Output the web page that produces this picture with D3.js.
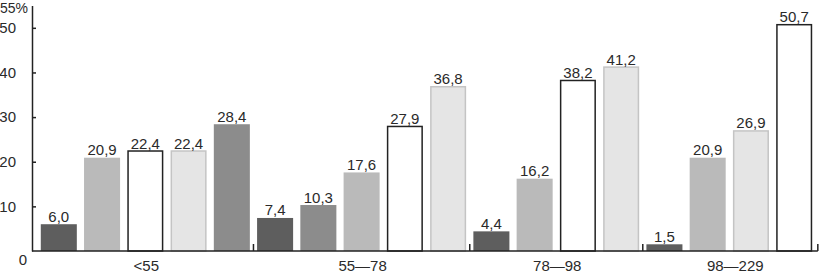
<!DOCTYPE html>
<html>
<head>
<meta charset="utf-8">
<script src="https://cdn.jsdelivr.net/npm/d3@7"></script>
<style>
  body { margin: 0; background: #fff; }
  #chart text { font-family: "Liberation Sans", Arial, sans-serif; fill: #2a2a2a; }
</style>
</head>
<body>
<div id="chart"></div>
<script>
// groups along the x axis
var categories = ["<55", "55—78", "78—98", "98—229"];

// bar values per group (percent)
var values = [
  [6.0, 20.9, 22.4, 22.4, 28.4],
  [7.4, 10.3, 17.6, 27.9, 36.8],
  [4.4, 16.2, 38.2, 41.2],
  [1.5, 20.9, 26.9, 50.7]
];

// fill style of each bar: D dark, M mid, L light, W white, V very light
var kinds = [
  ["D", "L", "W", "V", "M"],
  ["D", "M", "L", "W", "V"],
  ["D", "L", "W", "V"],
  ["D", "L", "V", "W"]
];

var yTicks = [10, 20, 30, 40, 50];

var fills = { D: "#5e5e5e", M: "#8c8c8c", L: "#bababa", W: "#ffffff", V: "#e5e5e5" };
var strokes = { D: "none", M: "none", L: "none", W: "#222", V: "#c4c4c4" };

var width = 820, height = 273;
var x0 = 32, baseY = 251;

var bars = [];
values.forEach(function(g, gi) {
  g.forEach(function(v, bi) {
    bars.push({ key: gi + "-" + bi, group: gi, value: v, kind: kinds[gi][bi] });
  });
});

var x = d3.scaleBand()
    .domain(bars.map(function(d) { return d.key; }))
    .range([33, 820])
    .paddingInner(0.167)
    .paddingOuter(0.18);

var y = d3.scaleLinear().domain([0, 55]).range([baseY, 5.5]);

var svg = d3.select("#chart").append("svg")
    .attr("width", width)
    .attr("height", height);

var fmt = function(v) { return d3.format(".1f")(v).replace(".", ","); };

// bars
svg.selectAll("rect.bar")
    .data(bars)
  .enter().append("rect")
    .attr("class", "bar")
    .attr("x", function(d) { return x(d.key) + (d.kind === "W" || d.kind === "V" ? 0.75 : 0); })
    .attr("width", function(d) { return x.bandwidth() - (d.kind === "W" || d.kind === "V" ? 1.5 : 0); })
    .attr("y", function(d) { return y(d.value); })
    .attr("height", function(d) { return baseY - y(d.value); })
    .style("fill", function(d) { return fills[d.kind]; })
    .style("stroke", function(d) { return strokes[d.kind]; })
    .style("stroke-width", 1.5);

// value labels
svg.selectAll("text.val")
    .data(bars)
  .enter().append("text")
    .attr("class", "val")
    .attr("x", function(d) { return x(d.key) + x.bandwidth() / 2; })
    .attr("y", function(d) { return y(d.value) - 2.5; })
    .attr("text-anchor", "middle")
    .style("font-size", "15px")
    .text(function(d) { return fmt(d.value); });

// y axis
var yAxis = d3.axisLeft(y)
    .tickValues(yTicks)
    .tickSizeInner(-4)
    .tickSizeOuter(0)
    .tickPadding(16);

var ga = svg.append("g")
    .attr("transform", "translate(" + x0 + ",0)")
    .call(yAxis);
ga.select(".domain").attr("stroke", "#222").attr("stroke-width", 1.5);
ga.selectAll(".tick line").attr("stroke", "#222").attr("stroke-width", 1.5);
ga.selectAll(".tick text")
    .style("font-size", "15px")
    .style("font-family", "'Liberation Sans', Arial, sans-serif")
    .attr("fill", "#2a2a2a");

svg.append("text")
    .attr("x", 0)
    .attr("y", 12.5)
    .style("font-size", "14px")
    .text("55%");

svg.append("text")
    .attr("x", 27)
    .attr("y", y(0) + 14)
    .attr("text-anchor", "end")
    .style("font-size", "15px")
    .text("0");

// baseline
var step = x.step(), gap = step - x.bandwidth();
var lastKey = bars[bars.length - 1].key;
var xEnd = x(lastKey) + x.bandwidth() + gap / 2 + 2;
svg.append("line")
    .attr("x1", x0).attr("x2", xEnd)
    .attr("y1", baseY).attr("y2", baseY)
    .attr("stroke", "#222").attr("stroke-width", 1.5);

// group separators and labels
categories.forEach(function(c, gi) {
  var gb = bars.filter(function(d) { return d.group === gi; });
  var first = x(gb[0].key), last = x(gb[gb.length - 1].key) + x.bandwidth();
  var sep = gi === categories.length - 1 ? xEnd : last + gap / 2;
  svg.append("line")
    .attr("x1", sep).attr("x2", sep)
    .attr("y1", baseY - 7).attr("y2", baseY)
    .attr("stroke", "#222").attr("stroke-width", 1.5);
  svg.append("text")
    .attr("x", (first + last) / 2 + (gi === 3 ? 6 : 1))
    .attr("y", 271)
    .attr("text-anchor", "middle")
    .style("font-size", "15px")
    .text(c);
});
</script>
</body>
</html>
